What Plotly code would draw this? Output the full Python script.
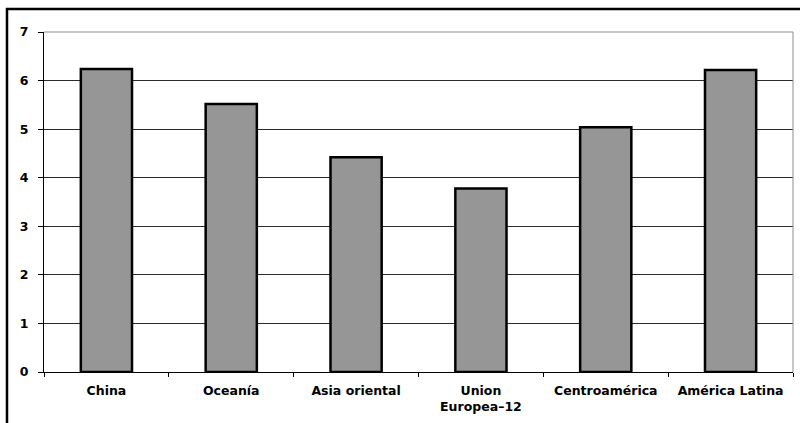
import plotly.graph_objects as go

# Regional values
regions = ["China", "Oceanía", "Asia oriental", "Union<br>Europea–12", "Centroamérica", "América Latina"]
values = [6.24, 5.52, 4.42, 3.78, 5.04, 6.22]
y_ticks = [0, 1, 2, 3, 4, 5, 6, 7]

fig = go.Figure()
fig.add_trace(go.Bar(
    x=regions,
    y=values,
    marker=dict(color="#969696", line=dict(color="#000000", width=2.5)),
    width=0.41,
))

font_bold = dict(family="DejaVu Sans, Arial, sans-serif", size=12.5, color="#000000", weight="bold")

fig.update_layout(
    width=800,
    height=423,
    margin=dict(l=44, r=7, t=32, b=51),
    paper_bgcolor="#ffffff",
    plot_bgcolor="#ffffff",
    showlegend=False,
    bargap=0.59,
    xaxis=dict(
        type="category",
        tickfont=font_bold,
        ticks="outside",
        tickson="boundaries",
        ticklen=4,
        tickcolor="#000000",
        showline=True,
        linecolor="#000000",
        linewidth=1,
        showgrid=False,
        ticklabelstandoff=7,
    ),
    yaxis=dict(
        range=[0, 7],
        tickvals=y_ticks,
        ticktext=[str(v) for v in y_ticks],
        tickfont=font_bold,
        ticks="outside",
        ticklen=5,
        tickcolor="#000000",
        showline=True,
        linecolor="#000000",
        linewidth=1,
        showgrid=True,
        gridcolor="#2a2a2a",
        gridwidth=1,
        zeroline=False,
        ticklabelstandoff=7,
    ),
    shapes=[
        # light frame on the top and right of the plotting area
        dict(type="line", xref="paper", yref="paper", x0=0, x1=1, y0=1, y1=1,
             line=dict(color="#8c8c8c", width=1)),
        dict(type="line", xref="paper", yref="paper", x0=1, x1=1, y0=0, y1=1,
             line=dict(color="#8c8c8c", width=1)),
        # outer chart border
        dict(type="rect", xref="paper", yref="paper",
             x0=-0.0494, x1=1.03, y0=-0.2, y1=1.0676,
             line=dict(color="#000000", width=2.5), fillcolor="rgba(0,0,0,0)", layer="above"),
    ],
)

fig.write_html("out.html")
